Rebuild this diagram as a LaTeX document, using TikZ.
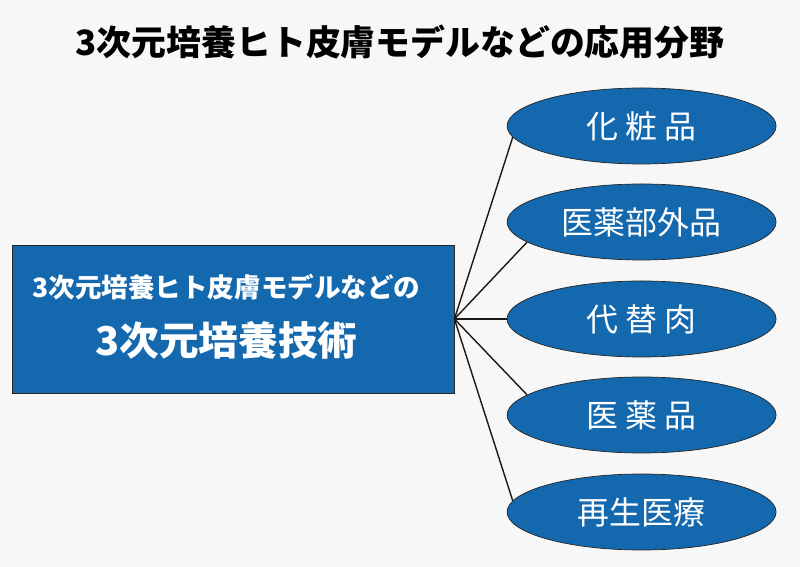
\documentclass[tikz,border=0pt]{standalone}
\usepackage{fontspec}
\newfontfamily\jpfont{Noto Sans CJK JP}
\definecolor{bgray}{RGB}{247,247,247}
\definecolor{techblue}{RGB}{20,104,174}
\tikzset{
  techbox/.style={draw=black!85, line width=0.6pt, fill=techblue, minimum width=11.05cm, minimum height=3.7cm, inner sep=0pt},
  field/.style={ellipse, draw=black!85, line width=0.5pt, fill=techblue, minimum width=6.725cm, minimum height=1.9cm, inner sep=0pt, text=white, font=\jpfont\fontsize{22.7}{26}\selectfont},
  branch/.style={line width=1pt, black!90}
}
\usetikzlibrary{shapes.geometric}
\begin{document}
\begin{tikzpicture}
    \fill[bgray] (0,0) rectangle (20,14.175);
    \useasboundingbox (0,0) rectangle (20,14.175);
    \node[font=\jpfont\bfseries\fontsize{24.8}{28}\selectfont] (title) at (10,13.125) {3次元培養ヒト皮膚モデルなどの応用分野};
    % the technology box
    \node[techbox] (tech) at (5.825,6.2) {};
    \node[text=white, font=\jpfont\bfseries\fontsize{18.9}{22}\selectfont] (techsub) at (5.66,7.0) {3次元培養ヒト皮膚モデルなどの};
    \node[text=white, font=\jpfont\bfseries\fontsize{28.2}{32}\selectfont] (techmain) at (5.66,5.675) {3次元培養技術};
    % fields of application
    \node[field] (cosme) at (16.04,11.025) {化 粧 品};
    \node[field] (quasi) at (16.04,8.625) {医薬部外品};
    \node[field] (meat) at (16.04,6.2) {代 替 肉};
    \node[field] (drug) at (16.04,3.8) {医 薬 品};
    \node[field] (regen) at (16.04,1.375) {再生医療};
    \draw[branch] (tech.east) -- (cosme.185);
    \draw[branch] (tech.east) -- (quasi.190);
    \draw[branch] (tech.east) -- (meat.west);
    \draw[branch] (tech.east) -- (drug.170);
    \draw[branch] (tech.east) -- (regen.175);
\end{tikzpicture}
\end{document}
